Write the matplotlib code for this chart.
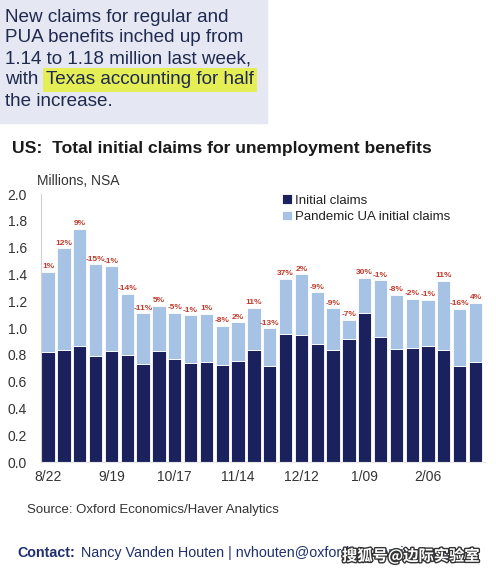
import matplotlib.pyplot as plt
import matplotlib.patheffects as pe
import numpy as np

plt.rcParams['font.family'] = ['Liberation Sans', 'DejaVu Sans']

# weekly data, 8/22 .. 2/27, millions
weeks = ['8/22', '8/29', '9/05', '9/12', '9/19', '9/26', '10/03', '10/10', '10/17', '10/24',
         '10/31', '11/07', '11/14', '11/21', '11/28', '12/05', '12/12', '12/19', '12/26',
         '1/02', '1/09', '1/16', '1/23', '1/30', '2/06', '2/13', '2/20', '2/27']
total = [1.42, 1.595, 1.74, 1.475, 1.46, 1.254, 1.11, 1.167, 1.114, 1.095,
         1.107, 1.017, 1.042, 1.152, 0.998, 1.366, 1.40, 1.266, 1.147,
         1.062, 1.376, 1.356, 1.246, 1.216, 1.209, 1.351, 1.142, 1.187]
initial = [0.823, 0.836, 0.866, 0.793, 0.828, 0.801, 0.729, 0.828, 0.766, 0.739,
           0.744, 0.724, 0.751, 0.836, 0.716, 0.957, 0.945, 0.878, 0.836,
           0.92, 1.114, 0.935, 0.841, 0.848, 0.868, 0.836, 0.716, 0.746]
pct = ['1%', '12%', '9%', '-15%', '-1%', '-14%', '-11%', '5%', '-5%', '-1%',
       '1%', '-8%', '2%', '11%', '-13%', '37%', '2%', '-9%', '-9%',
       '-7%', '30%', '-1%', '-8%', '-2%', '-1%', '11%', '-16%', '4%']
tick_idx = [0, 4, 8, 12, 16, 20, 24]

navy = '#1a215c'
light = '#a6c3e6'
red = '#c0392b'

pua = np.array(total) - np.array(initial)
x = np.arange(len(weeks))

fig = plt.figure(figsize=(4.96, 5.76), dpi=100)
W, H = 496, 576

# text box at top
fig.patches.append(plt.Rectangle((0, 1 - 123 / H), 267 / W, 123 / H,
                                 transform=fig.transFigure, color='#e5e7f3', zorder=0))
tc = '#1e2a4e'
lines = ['New claims for regular and', 'PUA benefits inched up from',
         '1.14 to 1.18 million last week,', 'with', 'the increase.']
for i, s in enumerate(lines):
    fig.text(5 / W, 1 - (17 + 21 * i) / H, s, fontsize=13.6, color=tc, va='center', ha='left')
fig.text(46 / W, 1 - 80 / H, 'Texas accounting for half', fontsize=13.6, color=tc,
         va='center', ha='left',
         bbox=dict(facecolor='#e6ee55', edgecolor='none', pad=2.5))

fig.text(12 / W, 1 - 149 / H, 'US:  Total initial claims for unemployment benefits',
         fontsize=12.6, fontweight='bold', color='#1a1a1a', va='center')
fig.text(37 / W, 1 - 181 / H, 'Millions, NSA', fontsize=10, color='#333333', va='center')

ax = fig.add_axes([41 / W, 1 - 462 / H, 444 / W, 268 / H])
ax.bar(x, initial, width=0.84, color=navy, edgecolor='white', linewidth=0.6,
       label='Initial claims')
ax.bar(x, pua, bottom=initial, width=0.84, color=light, edgecolor='white', linewidth=0.6,
       label='Pandemic UA initial claims')
for xi, t, p in zip(x, total, pct):
    ax.text(xi, t + 0.012, p, ha='center', va='bottom', fontsize=6.0,
            fontweight='bold', color=red)

ax.set_xlim(-0.45, 27.6)
ax.set_ylim(0, 2.0)
ax.set_yticks(np.arange(0, 2.01, 0.2))
ax.set_yticklabels([f'{v:.1f}' for v in np.arange(0, 2.01, 0.2)])
ax.set_xticks(tick_idx)
ax.set_xticklabels([weeks[i] for i in tick_idx])
ax.tick_params(length=0, labelsize=10, colors='#333333', pad=6)
ax.tick_params(axis='y', pad=10)
for s in ['top', 'right']:
    ax.spines[s].set_visible(False)
ax.spines['left'].set_color('#d0d0d0')
ax.spines['bottom'].set_color('#e8e8e8')

ax.legend(loc='upper left', bbox_to_anchor=(236 / 444, 1 + 5 / 268), frameon=False,
          fontsize=9.5, handlelength=0.7, handleheight=0.7, handletextpad=0.3,
          labelspacing=0.35, borderaxespad=0, labelcolor='#222222')

fig.text(27 / W, 1 - 510 / H, 'Source: Oxford Economics/Haver Analytics',
         fontsize=9.5, color='#333333', va='center')
fig.text(17 / W, 1 - 553 / H, 'Contact:', fontsize=10.3, fontweight='bold',
         color='#1e2f6e', va='center')
fig.text(81 / W, 1 - 553 / H, 'Nancy Vanden Houten | nvhouten@oxfordeconomics.com',
         fontsize=10.3, color='#1e2f6e', va='center')
wm = fig.text(342 / W, 1 - 556 / H, '搜狐号@边际实验室', fontsize=11, color='white',
              va='center', family=['Noto Sans CJK SC', 'DejaVu Sans'], fontweight='bold')
wm.set_path_effects([pe.withStroke(linewidth=2, foreground='#333333')])

fig.savefig('out.png', dpi=100)
